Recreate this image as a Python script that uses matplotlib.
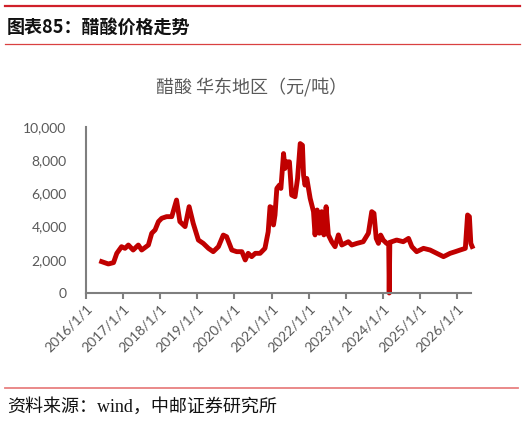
import matplotlib
matplotlib.use("Agg")
import matplotlib.pyplot as plt
from matplotlib.ticker import FuncFormatter
import pandas as pd

plt.rcParams['font.family'] = ['Noto Sans CJK SC', 'DejaVu Sans']

# 醋酸 华东地区 价格 (元/吨)
dates = [
    "2016-06-03", "2016-08-08", "2016-09-28", "2016-10-30", "2016-12-16",
    "2017-01-19", "2017-02-21", "2017-04-09", "2017-05-30", "2017-07-02",
    "2017-09-06", "2017-10-09", "2017-11-11", "2017-12-14", "2018-01-15",
    "2018-03-04", "2018-04-24", "2018-06-10", "2018-07-13", "2018-09-02",
    "2018-10-12", "2018-11-21", "2019-01-11", "2019-02-28", "2019-04-20",
    "2019-06-06", "2019-07-27", "2019-09-13", "2019-10-16", "2019-12-06",
    "2020-01-23", "2020-03-14", "2020-04-16", "2020-05-15", "2020-06-18",
    "2020-07-24", "2020-09-09", "2020-10-27", "2020-11-28", "2020-12-16",
    "2021-01-12", "2021-01-19", "2021-02-03", "2021-02-21", "2021-03-18",
    "2021-04-02", "2021-04-28", "2021-05-12", "2021-05-30", "2021-06-25",
    "2021-07-17", "2021-08-19", "2021-09-13", "2021-10-09", "2021-10-31",
    "2021-11-11", "2021-11-25", "2021-12-13", "2022-01-15", "2022-02-17",
    "2022-03-04", "2022-03-25", "2022-04-16", "2022-05-08", "2022-05-30",
    "2022-06-21", "2022-07-13", "2022-08-15", "2022-09-17", "2022-10-20",
    "2022-11-22", "2023-01-26", "2023-02-28", "2023-04-20", "2023-06-21",
    "2023-08-11", "2023-09-13", "2023-10-05", "2023-10-27", "2023-11-18",
    "2023-12-10", "2024-01-04", "2024-02-06", "2024-02-27", "2024-03-03",
    "2024-03-09", "2024-03-28", "2024-05-15", "2024-07-19", "2024-09-09",
    "2024-10-12", "2024-11-28", "2025-02-03", "2025-04-09", "2025-06-14",
    "2025-08-19", "2025-09-21", "2025-10-23", "2025-12-13", "2026-01-30",
    "2026-03-22", "2026-04-13", "2026-05-01", "2026-05-15", "2026-05-28",
]
prices = [
    1890, 1750, 1830, 2390, 2790,
    2690, 2890, 2590, 2890, 2590,
    2890, 3600, 3800, 4300, 4500,
    4600, 4600, 5600, 4300, 4000,
    5200, 4200, 3190, 2990, 2690,
    2490, 2790, 3490, 3390, 2590,
    2490, 2490, 1990, 2390, 2190,
    2390, 2390, 2690, 3690, 5200,
    5100, 4100, 4700, 6300, 6500,
    6300, 8400, 7500, 7900, 7900,
    5900, 5800, 6900, 9000, 8900,
    7100, 6500, 6900, 5700, 4900,
    3500, 5000, 3600, 4900, 3500,
    5200, 3500, 3090, 2790, 3500,
    2890, 3090, 2890, 2990, 3090,
    3600, 4900, 4800, 3290, 2990,
    3490, 3190, 2990, 3000, 0,
    3050, 3090, 3190, 3090, 3290,
    2790, 2490, 2690, 2590, 2390,
    2190, 2290, 2390, 2490, 2590,
    2690, 4700, 4600, 2990, 2800,
]
year_ticks = list(range(2016, 2027))

x = pd.to_datetime(dates)

fig = plt.figure(figsize=(5.25, 4.23), dpi=100)
ax = fig.add_axes([0.1638, 0.3073, 0.7330, 0.3925])

ax.plot(x, prices, color='#C00000', lw=3.5, solid_joinstyle='round', clip_on=False)

ax.set_ylim(0, 10000)
ax.set_yticks(range(0, 10001, 2000))
ax.yaxis.set_major_formatter(FuncFormatter(lambda v, p: f"{int(v):,}"))
ax.set_xlim(pd.Timestamp("2016-01-01"), pd.Timestamp("2026-05-15"))
ax.set_xticks([pd.Timestamp(f"{y}-01-01") for y in year_ticks])
ax.set_xticklabels([f"{y}/1/1" for y in year_ticks])

for s in ['top', 'right']:
    ax.spines[s].set_visible(False)
for s in ['left', 'bottom']:
    ax.spines[s].set_color('#7f7f7f')
    ax.spines[s].set_linewidth(1.5)

ax.tick_params(axis='y', length=0, pad=14, labelsize=10, labelcolor='#595959')
ax.tick_params(axis='x', length=4, width=1.5, color='#7f7f7f', pad=3,
               labelsize=10, labelcolor='#595959')
for lab in ax.get_xticklabels():
    lab.set_rotation(45)
    lab.set_ha('right')
    lab.set_rotation_mode('anchor')
    lab.set_family(['Lato', 'DejaVu Sans'])
for lab in ax.get_yticklabels():
    lab.set_family(['Lato', 'DejaVu Sans'])

# chart title
fig.text(252 / 525, 1 - 88 / 423, "醋酸 华东地区（元/吨）", ha='center', va='center',
         fontsize=13, color='#595959')

# header
fig.add_artist(plt.Line2D([5 / 525, 520 / 525], [1 - 6 / 423] * 2, color='#D0202A', lw=1.6))
fig.text(7 / 525, 1 - 27 / 423, "图表85：醋酸价格走势", ha='left', va='center',
         fontsize=13, fontweight='bold', color='#111111')
fig.add_artist(plt.Line2D([5 / 525, 520 / 525], [1 - 44 / 423] * 2, color='#D94040', lw=0.9))

# footer
fig.add_artist(plt.Line2D([5 / 525, 518 / 525], [1 - 388 / 423] * 2, color='#E88080', lw=1.3))
fig.text(7 / 525, 1 - 407 / 423, "资料来源：wind，中邮证券研究所", ha='left', va='center',
         fontsize=13, color='#111111', family=['Liberation Serif', 'Noto Sans CJK SC'])

fig.savefig("out.png", dpi=100)
